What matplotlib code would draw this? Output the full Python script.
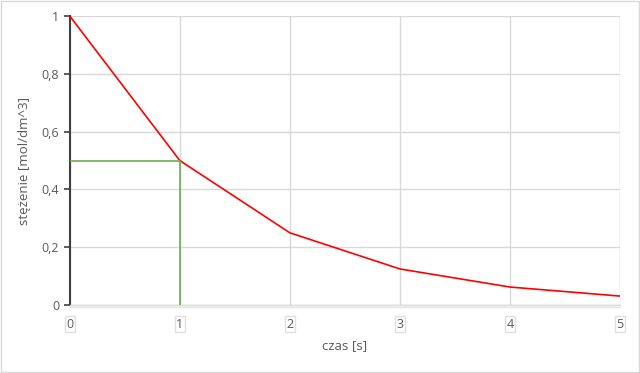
import matplotlib.pyplot as plt
import matplotlib.patheffects as pe
from matplotlib.patches import Rectangle

czas = [0, 1, 2, 3, 4, 5]
stezenie = [1, 0.5, 0.25, 0.125, 0.0625, 0.03125]
pol_x = [0, 1, 1]
pol_y = [0.5, 0.5, 0]
y_ticks = [0, 0.2, 0.4, 0.6, 0.8, 1]
y_labels = ['0', '0,2', '0,4', '0,6', '0,8', '1']

plt.rcParams['font.family'] = ['Open Sans', 'DejaVu Sans']

fig = plt.figure(figsize=(6.4, 3.73), dpi=100)
fig.patches.append(Rectangle((0.001, 0.002), 0.997, 0.995, transform=fig.transFigure,
                             fill=False, edgecolor='#d9d9d9', linewidth=1))
ax = fig.add_axes([0.109, 0.182, 0.86, 0.775])

ax.plot(czas, stezenie, color='#ff0000', linewidth=1.2, zorder=3)
ax.plot(pol_x, pol_y, color='#70ad47', linewidth=1.2, zorder=3)

ax.set_xlim(0, 5)
ax.set_ylim(0, 1)
ax.set_yticks(y_ticks)
ax.set_yticklabels(y_labels)
ax.set_xticks(czas)
ax.grid(True, color='#d9d9d9', linewidth=1)
ax.set_axisbelow(True)

for s in ['top', 'right']:
    ax.spines[s].set_visible(False)
ax.spines['left'].set_color('#404040')
ax.spines['left'].set_linewidth(1.5)
ax.spines['bottom'].set_color('#d9d9d9')
ax.spines['bottom'].set_linewidth(1)
ax.spines['bottom'].set_path_effects([pe.SimpleLineShadow(offset=(0, -1.5), shadow_color='#c8c8c8', alpha=0.5), pe.Normal()])

ax.tick_params(axis='y', colors='#404040', length=4, width=1.2, labelcolor='#595959', labelsize=9)
ax.tick_params(axis='x', length=0, labelcolor='#595959', labelsize=9, pad=9)
for lab in ax.get_xticklabels():
    lab.set_bbox(dict(boxstyle='square,pad=0.1', facecolor='white', edgecolor='#e0e0e0', linewidth=1))

ax.set_xlabel('czas [s]', color='#595959', fontsize=9.5, labelpad=6)
ax.set_ylabel('stężenie [mol/dm^3]', color='#595959', fontsize=9.5, labelpad=8)

fig.savefig('out.png', dpi=100)
